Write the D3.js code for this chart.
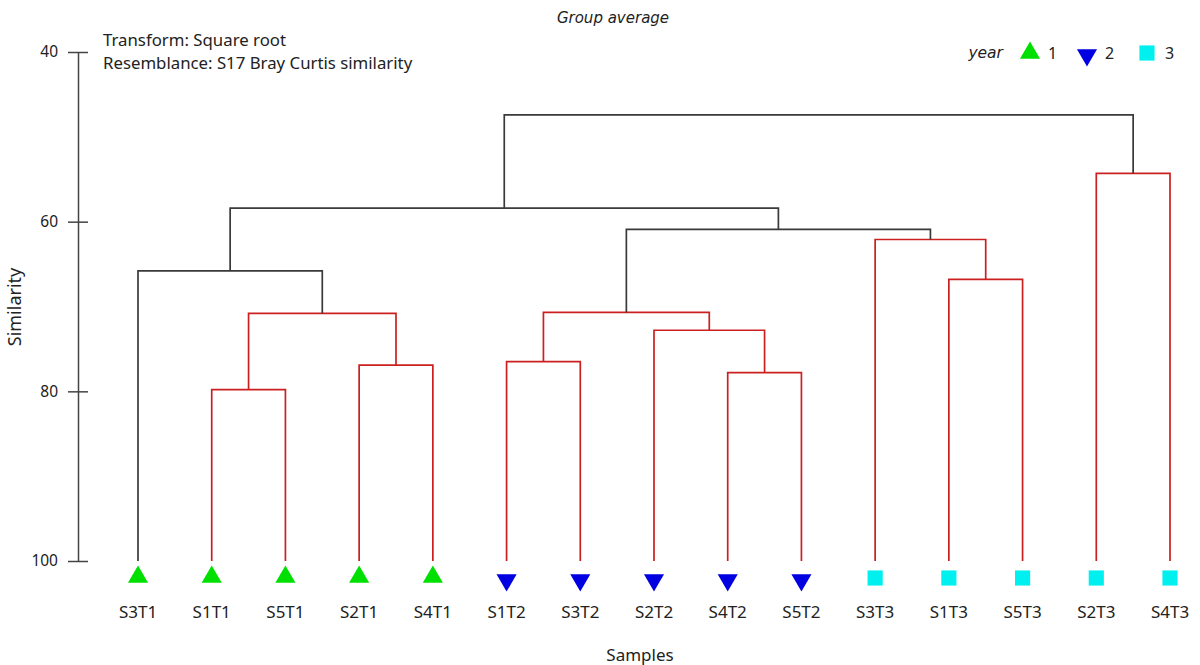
<!DOCTYPE html>
<html><head><meta charset="utf-8">
<script src="https://cdn.jsdelivr.net/npm/d3@7"></script>
<style>body{margin:0;background:#fff}svg{display:block}text{font-family:"Noto Sans",sans-serif;fill:#222}.it{font-family:"DejaVu Sans",sans-serif;font-style:italic}</style>
</head><body><svg id="c" width="1200" height="665"></svg>
<script>
// Data
const leaves = ["S3T1","S1T1","S5T1","S2T1","S4T1","S1T2","S3T2","S2T2","S4T2","S5T2","S3T3","S1T3","S5T3","S2T3","S4T3"];
const leafYear = [1,1,1,1,1,2,2,2,2,2,3,3,3,3,3];
const yearLabels = ["1","2","3"];
const mergeIds    = ["a","b","c","d","e","f","g","h","i","j","k","l","m","n"];
const mergeLeft   = ["S1T1","S2T1","a","S3T1","S1T2","S4T2","S2T2","e","S1T3","S3T3","h","d","S2T3","l"];
const mergeRight  = ["S5T1","S4T1","b","c","S3T2","S5T2","f","g","S5T3","i","j","k","S4T3","m"];
const mergeSim    = [79.8,76.9,70.8,65.8,76.5,77.8,72.8,70.7,66.8,62.1,60.9,58.4,54.3,47.4];
const mergeSignif = [false,false,false,true,false,false,false,false,false,false,true,true,false,true];
const yTicks = [40,60,80,100];

const svg = d3.select("#c");
const x = d3.scalePoint().domain(leaves).range([138,1170]);
const y = d3.scaleLinear().domain([40,100]).range([52,561]);
const BLACK = "#3a3a3a", RED = "#cc2020";

// node positions
const pos = {};
leaves.forEach(l => pos[l] = {x: x(l), sim: 100});
mergeIds.forEach((id,i) => {
  const L = pos[mergeLeft[i]], R = pos[mergeRight[i]];
  pos[id] = {x: (L.x + R.x)/2, sim: mergeSim[i]};
});

// axis
const ax = svg.append("g").attr("transform","translate(78,0)")
  .call(d3.axisLeft(y).tickValues(yTicks).tickSize(0).tickPadding(20).tickFormat(d3.format("d")));
ax.select(".domain").attr("stroke","#444").attr("stroke-width",1.5);
ax.selectAll(".tick text").attr("font-size",15.5).attr("fill","#222").style("font-family","Noto Sans");
ax.selectAll(".tick").append("line").attr("x1",-10).attr("x2",10).attr("stroke","#444").attr("stroke-width",1.5);

// dendrogram links
const g = svg.append("g").attr("fill","none").attr("stroke-width",1.7);
mergeIds.forEach((id,i) => {
  const col = mergeSignif[i] ? BLACK : RED;
  const P = pos[id], L = pos[mergeLeft[i]], R = pos[mergeRight[i]];
  const yp = y(P.sim);
  g.append("path").attr("stroke",col)
   .attr("d", `M${L.x},${y(L.sim)}V${yp}H${R.x}V${y(R.sim)}`);
});

// markers
const sym = {1: d3.symbolTriangle, 2: d3.symbolTriangle, 3: d3.symbolSquare};
const symColor = {1:"#00e000", 2:"#0000e0", 3:"#00f0f0"};
const symSize = {1:175, 2:175, 3:230};
function marker(sel, yr){
  sel.append("path").attr("d", d3.symbol(sym[yr], symSize[yr])())
    .attr("fill", symColor[yr])
    .attr("transform", yr===2 ? "rotate(180)" : null);
}
leaves.forEach((l,i) => {
  const yr = leafYear[i];
  const mg = svg.append("g").attr("transform",`translate(${x(l)},${yr===2?580:yr===1?577:578})`);
  marker(mg, yr);
  svg.append("text").attr("x",x(l)).attr("y",618).attr("text-anchor","middle").attr("font-size",17).text(l);
});

// legend
svg.append("text").attr("class","it").attr("x",1003).attr("y",58).attr("text-anchor","end").attr("font-size",15.5).text("year");
const legX = [1030,1087,1147];
yearLabels.forEach((t,i) => {
  const yr = i+1;
  const mg = svg.append("g").attr("transform",`translate(${legX[i]},${yr===2?55:53})`);
  marker(mg, yr);
  svg.append("text").attr("x",legX[i]+18).attr("y",59).attr("font-size",16).text(t);
});

// texts
svg.append("text").attr("class","it").attr("x",613).attr("y",23).attr("text-anchor","middle").attr("font-size",15).text("Group average");
svg.append("text").attr("x",103).attr("y",46).attr("font-size",16.8).text("Transform: Square root");
svg.append("text").attr("x",103).attr("y",69).attr("font-size",16.8).text("Resemblance: S17 Bray Curtis similarity");
svg.append("text").attr("x",640).attr("y",661).attr("text-anchor","middle").attr("font-size",17).text("Samples");
svg.append("text").attr("transform","translate(21,307) rotate(-90)").attr("text-anchor","middle").attr("font-size",18).text("Similarity");
</script></body></html>
